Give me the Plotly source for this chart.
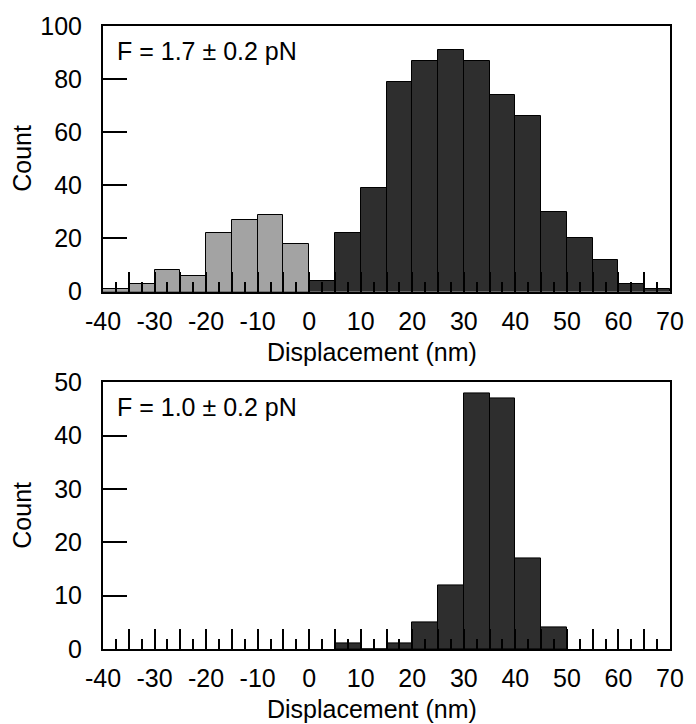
import plotly.graph_objects as go

# ---- data ----
top_gray_centers = [-37.5, -32.5, -27.5, -22.5, -17.5, -12.5, -7.5, -2.5]
top_gray_counts = [1, 3, 8, 6, 22, 27, 29, 18]
top_dark_centers = [2.5, 7.5, 12.5, 17.5, 22.5, 27.5, 32.5, 37.5, 42.5, 47.5, 52.5, 57.5, 62.5, 67.5]
top_dark_counts = [4, 22, 39, 79, 87, 91, 87, 74, 66, 30, 20, 12, 3, 1]
bottom_centers = [7.5, 12.5, 17.5, 22.5, 27.5, 32.5, 37.5, 42.5, 47.5]
bottom_counts = [1, 0, 1, 5, 12, 48, 47, 17, 4]

x_tick_values = [-40, -35, -30, -25, -20, -15, -10, -5, 0, 5, 10, 15, 20, 25, 30, 35, 40, 45, 50, 55, 60, 65, 70]
x_tick_labels = ["-40", "", "-30", "", "-20", "", "-10", "", "0", "", "10", "", "20", "", "30", "", "40", "", "50", "", "60", "", "70"]
top_label = "F = 1.7 ± 0.2 pN"
bottom_label = "F = 1.0 ± 0.2 pN"
x_title = "Displacement (nm)"
y_title = "Count"

FONT = "Liberation Sans, Arial, sans-serif"
FS = 25
GRAY = "#a3a3a3"
DARK = "#2e2e2e"

fig = go.Figure()
fig.add_trace(go.Bar(x=top_gray_centers, y=top_gray_counts, width=5,
                     marker=dict(color=GRAY, line=dict(color="black", width=1)),
                     xaxis="x", yaxis="y", showlegend=False))
fig.add_trace(go.Bar(x=top_dark_centers, y=top_dark_counts, width=5,
                     marker=dict(color=DARK, line=dict(color="black", width=1)),
                     xaxis="x", yaxis="y", showlegend=False))
fig.add_trace(go.Bar(x=bottom_centers, y=bottom_counts, width=5,
                     marker=dict(color=DARK, line=dict(color="black", width=1)),
                     xaxis="x2", yaxis="y2", showlegend=False))

W, H = 696, 724
ml, mr, mt, mb = 103, 16, 18, 75
ph = H - mt - mb
top_dom = [(649 - 287) / ph, 1.0]
bot_dom = [0.0, (649 - 379) / ph]

xcommon = dict(range=[-40, 70], showline=True, mirror=True, linecolor="black", linewidth=2,
               ticks="inside", ticklen=20, tickwidth=2, tickcolor="black",
               tickmode="array", tickvals=x_tick_values, ticktext=x_tick_labels,
               minor=dict(ticks="inside", tick0=-37.5, dtick=5, ticklen=10, tickwidth=2, tickcolor="black"),
               showgrid=False, zeroline=False, ticklabelstandoff=6,
               tickfont=dict(family=FONT, size=FS, color="black"), domain=[0, 1])
ycommon = dict(showline=True, mirror=True, linecolor="black", linewidth=2,
               ticks="inside", ticklen=24, tickwidth=2, tickcolor="black",
               showgrid=False, zeroline=False, ticklabelstandoff=14,
               tickfont=dict(family=FONT, size=FS, color="black"))

fig.update_layout(
    width=W, height=H,
    margin=dict(l=ml, r=mr, t=mt, b=mb),
    paper_bgcolor="white", plot_bgcolor="white",
    bargap=0, barmode="overlay",
    xaxis=dict(**xcommon, anchor="y"),
    yaxis=dict(**ycommon, range=[0, 100], dtick=20, domain=top_dom, anchor="x"),
    xaxis2=dict(**xcommon, anchor="y2"),
    yaxis2=dict(**ycommon, range=[0, 50], dtick=10, domain=bot_dom, anchor="x2"),
    font=dict(family=FONT, size=FS, color="black"),
)

ann = []
for dom, lab in ((top_dom, top_label), (bot_dom, bottom_label)):
    ann.append(dict(text=lab, xref="paper", yref="paper", x=0, y=dom[1], xanchor="left", yanchor="middle",
                    xshift=12, yshift=-25, showarrow=False, font=dict(family=FONT, size=FS, color="black")))
    ann.append(dict(text=x_title, xref="paper", yref="paper", x=0.475, y=dom[0], xanchor="center", yanchor="middle",
                    yshift=-60, showarrow=False, font=dict(family=FONT, size=FS, color="black")))
    ann.append(dict(text=y_title, xref="paper", yref="paper", x=0, y=(dom[0] + dom[1]) / 2, xanchor="center",
                    yanchor="middle", xshift=-81, textangle=-90, showarrow=False,
                    font=dict(family=FONT, size=FS, color="black")))
fig.update_layout(annotations=ann)

fig.write_html("out.html", config={"displayModeBar": False},
               post_script="document.body.style.margin='0';document.body.style.overflow='hidden';")
